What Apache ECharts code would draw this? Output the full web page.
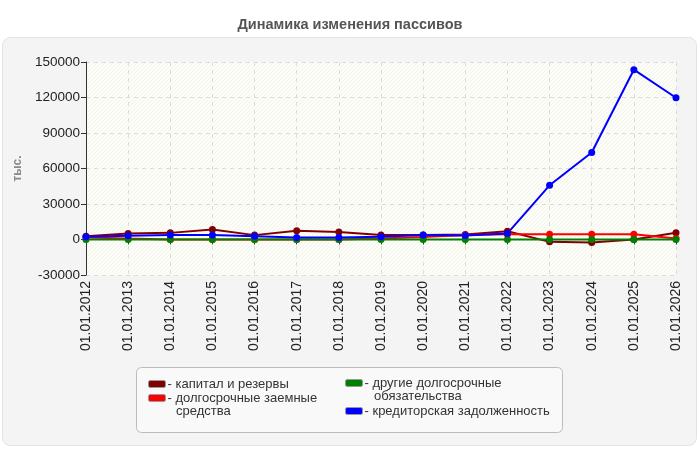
<!DOCTYPE html>
<html>
<head>
<meta charset="utf-8">
<script src="https://cdn.jsdelivr.net/npm/echarts@6/dist/echarts.min.js"></script>
<style>
  html, body { margin: 0; padding: 0; background: #fff; }
  #chart { width: 700px; height: 450px; }
</style>
</head>
<body>
<div id="chart"></div>
<script>
// даты отчётов
var dates = ['01.01.2012','01.01.2013','01.01.2014','01.01.2015','01.01.2016','01.01.2017','01.01.2018','01.01.2019',
             '01.01.2020','01.01.2021','01.01.2022','01.01.2023','01.01.2024','01.01.2025','01.01.2026'];
// значения, тыс.
var kapital   = [2800, 5000, 5600, 8500, 3700, 7300, 6400, 3700, 3700, 4200, 7000, -2000, -2500, 0, 5700];
var zaemnye   = [1700, 800, 0, 0, 0, 0, 0, 800, 2200, 3700, 4500, 4500, 4500, 4500, 800];
var drugie    = [0, 0, 0, 0, 0, 0, 0, 0, 0, 0, 0, 0, 0, 0, 0];
var kreditory = [2300, 3100, 3700, 3700, 2800, 1700, 1700, 2300, 3700, 3400, 5100, 45800, 73500, 143500, 119800];
var yTicks = { min: -30000, max: 150000, step: 30000 };

var names = ['капитал и резервы', 'долгосрочные заемные средства', 'другие долгосрочные обязательства', 'кредиторская задолженность'];
// первая строка подписи в легенде, продолжение рисуется отдельным текстом
var labels = {
  'капитал и резервы': '- капитал и резервы',
  'долгосрочные заемные средства': '- долгосрочные заемные',
  'другие долгосрочные обязательства': '- другие долгосрочные',
  'кредиторская задолженность': '- кредиторская задолженность'
};

// штриховка фона
var hatch = document.createElement('canvas');
hatch.width = 4; hatch.height = 4;
var hc = hatch.getContext('2d');
hc.fillStyle = '#fdfdf8';
hc.fillRect(0, 0, 4, 4);
hc.strokeStyle = '#f3f3ee';
hc.lineWidth = 1;
hc.beginPath();
hc.moveTo(0, 4); hc.lineTo(4, 0);
hc.stroke();

var myChart = echarts.init(document.getElementById('chart'));

function line(name, data, color) {
  return {
    name: name,
    type: 'line',
    data: data,
    symbol: 'circle',
    symbolSize: 7,
    itemStyle: { color: color },
    lineStyle: { color: color, width: 2 },
    emphasis: { disabled: true },
    animation: false
  };
}

var font = 'Liberation Sans';
var legendCommon = {
  orient: 'vertical',
  icon: 'roundRect',
  itemWidth: 17,
  itemHeight: 7,
  itemStyle: { borderColor: '#999', borderWidth: 1 },
  textStyle: { color: '#333', fontSize: 13, fontFamily: font, lineHeight: 14, padding: [0, 0, 0, -3] },
  formatter: function (n) { return labels[n]; },
  selectedMode: false
};

var option = {
  backgroundColor: '#fff',
  title: {
    text: 'Динамика изменения пассивов',
    left: 'center',
    top: 12,
    textStyle: { fontSize: 14.5, fontWeight: 'bold', color: '#555', fontFamily: font }
  },
  graphic: [
    {
      type: 'rect', z: -10, silent: true,
      shape: { x: 2.5, y: 37.5, width: 694, height: 408, r: 8 },
      style: { fill: '#f4f4f4', stroke: '#e2e2e2', lineWidth: 1 }
    },
    {
      type: 'rect', z: -5, silent: true,
      shape: { x: 136.5, y: 367.5, width: 426, height: 65, r: 5 },
      style: { fill: '#f9f9f9', stroke: '#bbb', lineWidth: 1 }
    },
    { type: 'text', left: 176, top: 405, silent: true,
      style: { text: 'средства', fill: '#333', font: '13px "Liberation Sans"' } },
    { type: 'text', left: 374, top: 390, silent: true,
      style: { text: 'обязательства', fill: '#333', font: '13px "Liberation Sans"' } }
  ],
  legend: [
    Object.assign({}, legendCommon, { left: 143, top: 372, itemGap: 0, data: [names[0], names[1]] }),
    Object.assign({}, legendCommon, { left: 340, top: 371, itemGap: 14, data: [names[2], names[3]] })
  ],
  grid: {
    left: 86, right: 24, top: 62, bottom: 175,
    show: true,
    backgroundColor: { image: hatch, repeat: 'repeat' },
    borderWidth: 0
  },
  xAxis: {
    type: 'category',
    data: dates,
    boundaryGap: false,
    axisLine: { lineStyle: { color: '#333', width: 1 } },
    axisTick: { alignWithLabel: true, length: 5, lineStyle: { color: '#333' } },
    axisLabel: { rotate: 90, color: '#222', fontSize: 14, fontFamily: font, margin: 6, interval: 0 },
    splitLine: { show: true, lineStyle: { color: '#dcdcdc', type: [4, 4] } }
  },
  yAxis: {
    type: 'value',
    min: yTicks.min, max: yTicks.max, interval: yTicks.step,
    name: 'тыс.',
    nameLocation: 'middle',
    nameGap: 60,
    nameTextStyle: { color: '#888', fontWeight: 'bold', fontSize: 12, fontFamily: font },
    axisLine: { show: true, lineStyle: { color: '#333', width: 1 } },
    axisTick: { show: true, length: 5, lineStyle: { color: '#333' } },
    axisLabel: { color: '#222', fontSize: 13.5, fontFamily: font, margin: 6,
      formatter: function (v) { return String(v); } },
    splitLine: { show: true, lineStyle: { color: '#dcdcdc', type: [4, 4] } }
  },
  series: [
    line(names[0], kapital, '#800000'),
    line(names[1], zaemnye, '#ff0000'),
    line(names[2], drugie, '#008000'),
    line(names[3], kreditory, '#0000ff')
  ]
};

myChart.setOption(option);
</script>
</body>
</html>
